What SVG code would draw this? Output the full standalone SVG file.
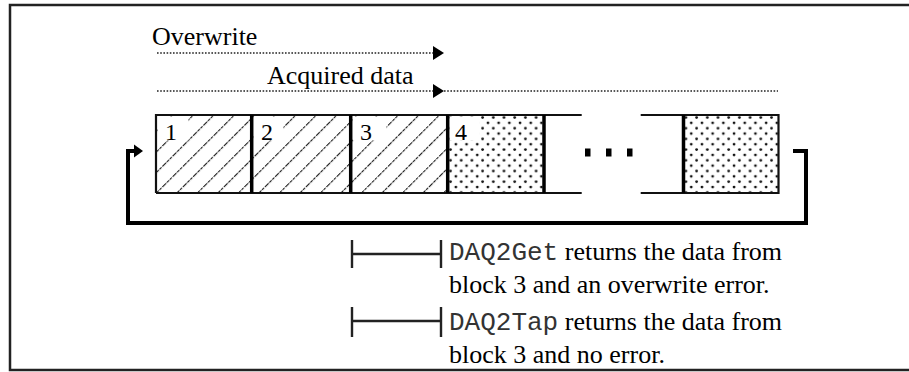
<svg xmlns="http://www.w3.org/2000/svg" width="909" height="372" viewBox="0 0 909 372">
<style>
.serif{font-family:"Liberation Serif","Times New Roman",serif;fill:#000}
.mono{font-family:"Liberation Mono","Courier New",monospace;fill:#333}
.frame{stroke:#222;stroke-width:2.5;fill:none}
.edge{stroke:#111;stroke-width:2.2;fill:none}
.div{stroke:#000;stroke-width:3.5;fill:none}
.dotted{stroke:#222;stroke-width:1.7;stroke-dasharray:1.6 1.6;fill:none}
.loop{stroke:#000;stroke-width:4;fill:none}
.brk{stroke:#222;stroke-width:2.4;fill:none}
.lbl{fill:#fff}
</style>
<defs>
<pattern id="hatch" patternUnits="userSpaceOnUse" width="14.5" height="14.5" patternTransform="rotate(45)">
<line x1="0" y1="0" x2="0" y2="14.5" stroke="#111" stroke-width="2.2" stroke-dasharray="3 1"/>
</pattern>
<pattern id="dots" patternUnits="userSpaceOnUse" x="448" y="115" width="10.7" height="10.7">
<circle cx="2.5" cy="2.5" r="1.4" fill="#111"/>
<circle cx="7.85" cy="7.85" r="1.4" fill="#111"/>
</pattern>
</defs>
<rect width="909" height="372" fill="#fff"/>
<g id="frame">
<path class="frame" d="M909,5 H10 V370 H909"/>
</g>
<g id="block1">
<rect x="156" y="115" width="95.7" height="78" fill="url(#hatch)"/>
<rect class="lbl" x="157.5" y="116.5" width="31" height="24"/>
<text class="serif" x="165" y="139.5" font-size="24">1</text>
</g>
<g id="block2">
<rect x="251.7" y="115" width="99" height="78" fill="url(#hatch)"/>
<rect class="lbl" x="253.5" y="116.5" width="30" height="24"/>
<text class="serif" x="261" y="139.5" font-size="24">2</text>
</g>
<g id="block3">
<rect x="350.7" y="115" width="97" height="78" fill="url(#hatch)"/>
<rect class="lbl" x="352.5" y="116.5" width="34" height="24"/>
<text class="serif" x="360" y="139.5" font-size="24">3</text>
</g>
<g id="block4">
<rect x="447.7" y="115" width="96.3" height="78" fill="url(#dots)"/>
<rect class="lbl" x="449.5" y="116.5" width="30" height="24"/>
<text class="serif" x="455" y="139.5" font-size="24">4</text>
</g>
<g id="blockLast">
<rect x="683.5" y="115" width="95" height="78" fill="url(#dots)"/>
</g>
<g id="buffer-outline">
<path class="edge" d="M156,193 V115 H581.7 M156,193 H581.7 M640.7,115 H778.5 V193 H640.7"/>
<path class="div" d="M251.7,115 V193 M350.7,115 V193 M447.7,115 V193 M544,115 V193 M683.5,115 V193"/>
</g>
<g id="ellipsis" fill="#000">
<rect x="585" y="148.5" width="5.5" height="8"/>
<rect x="606" y="148.5" width="5.5" height="8"/>
<rect x="627" y="148.5" width="5.5" height="8"/>
</g>
<g id="labels">
<text class="serif" x="152" y="45" font-size="26">Overwrite</text>
<text class="serif" x="267" y="84" font-size="26">Acquired data</text>
<text class="serif" x="449" y="260" font-size="26"><tspan class="mono" font-size="26">DAQ2Get</tspan> returns the data from</text>
<text class="serif" x="449" y="293" font-size="26">block 3 and an overwrite error.</text>
<text class="serif" x="449" y="330" font-size="26"><tspan class="mono" font-size="26">DAQ2Tap</tspan> returns the data from</text>
<text class="serif" x="449" y="363" font-size="26">block 3 and no error.</text>
</g>
<g id="connectors">
<path class="dotted" d="M157,53 H434"/>
<polygon points="433,46 444,53 433,60" fill="#000"/>
<path class="dotted" d="M157,91 H434 M444,91 H778"/>
<polygon points="433,84 444,91 433,98" fill="#000"/>
<path class="loop" d="M793,151 H806 V223 H128 V151 H135"/>
<polygon points="134,144.5 143,151 134,157.5" fill="#000"/>
<path class="brk" d="M352,240 V268 M352,254 H441 M441,240 V268"/>
<path class="brk" d="M352,307 V337 M352,321 H441 M441,307 V337"/>
</g>
</svg>
